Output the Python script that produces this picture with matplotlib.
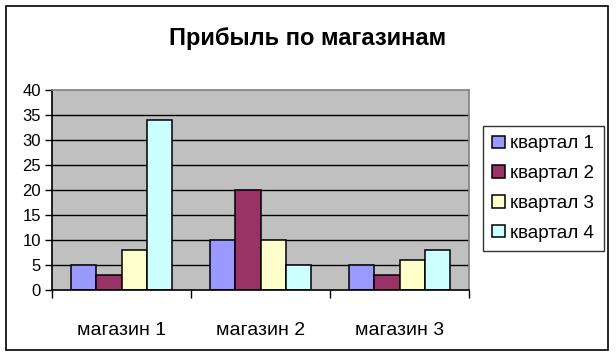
import matplotlib
matplotlib.use("Agg")
import matplotlib.pyplot as plt
from matplotlib.patches import Rectangle
import numpy as np

plt.rcParams['font.family'] = ['Liberation Sans', 'DejaVu Sans']

# данные
shops = ["магазин 1", "магазин 2", "магазин 3"]
quarters = ["квартал 1", "квартал 2", "квартал 3", "квартал 4"]
q1 = [5, 10, 5]
q2 = [3, 20, 3]
q3 = [8, 10, 6]
q4 = [34, 5, 8]
colors = ["#9999FF", "#993366", "#FFFFCC", "#CCFFFF"]
yticks = [0, 5, 10, 15, 20, 25, 30, 35, 40]

W, H = 616, 357
fig = plt.figure(figsize=(W / 100, H / 100), dpi=100)

def px(x0, y0, x1, y1):
    # пиксели -> доли фигуры
    return [x0 / W, 1 - y1 / H, (x1 - x0) / W, (y1 - y0) / H]

# рамка диаграммы
fig.patches.append(Rectangle((6 / W, 1 - 350 / H), 602 / W, 344 / H,
                             transform=fig.transFigure, fill=False,
                             edgecolor="black", linewidth=1.2))

ax = fig.add_axes(px(52, 90, 469, 290))
ax.set_facecolor("#C0C0C0")

x = np.arange(len(shops))
bw = 0.73 / 4
series = [q1, q2, q3, q4]
bars = []
for i, vals in enumerate(series):
    b = ax.bar(x + (i - 1.5) * bw, vals, bw, color=colors[i],
               edgecolor="black", linewidth=1.1, label=quarters[i], zorder=3)
    bars.append(b)

ax.set_xlim(-0.5, len(shops) - 0.5)
ax.set_ylim(0, 40)
ax.set_yticks(yticks)
ax.set_yticklabels([str(v) for v in yticks], fontsize=12)
for v in yticks[1:-1]:
    ax.axhline(v, color="black", linewidth=1, zorder=1)

# подписи категорий, деления на границах
ax.set_xticks(np.arange(len(shops) + 1) - 0.5)
ax.set_xticklabels([])
ax.set_xticks(x, minor=True)
ax.set_xticklabels(shops, minor=True, fontsize=14)
ax.tick_params(axis="x", which="minor", length=0, pad=23)
ax.tick_params(axis="x", which="major", length=6, width=1, direction="out")
ax.tick_params(axis="y", length=5, width=1, direction="out", pad=3)

for s in ["top", "right"]:
    ax.spines[s].set_color("#808080")
    ax.spines[s].set_linewidth(1.2)
for s in ["left", "bottom"]:
    ax.spines[s].set_color("black")
    ax.spines[s].set_linewidth(1.2)
ax.spines["bottom"].set_zorder(4)

fig.text(308 / W, 1 - 38 / H, "Прибыль по магазинам", ha="center",
         va="center", fontsize=17, fontweight="bold")

leg = fig.legend(handles=bars, labels=quarters, loc="upper left",
                 bbox_to_anchor=(483 / W, 1 - 126 / H), fontsize=13.5,
                 frameon=True, fancybox=False, handlelength=0.65,
                 handleheight=0.65, handletextpad=0.3, labelspacing=0.68,
                 borderpad=0.5, borderaxespad=0)
leg.get_frame().set_edgecolor("black")
leg.get_frame().set_linewidth(1)

fig.savefig("out.png", dpi=100)
